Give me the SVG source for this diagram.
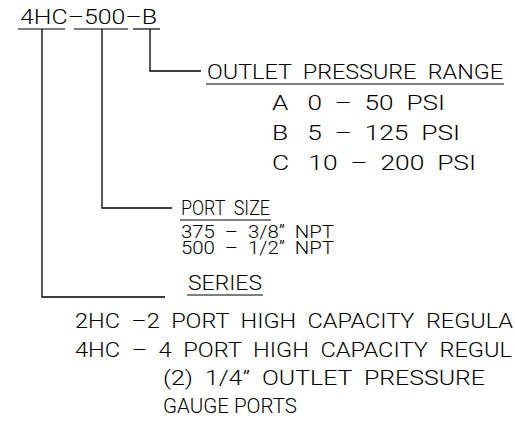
<svg xmlns="http://www.w3.org/2000/svg" width="515" height="439" viewBox="0 0 515 439">
<style>
  text { font-family: Roboto, "DejaVu Sans", "Liberation Sans", Arial, sans-serif; font-weight: 300; fill: #000; }
  .t { font-size: 20px; }
  .s { font-size: 17.5px; }
  .ln { stroke: #000; stroke-width: 1.3; fill: none; }
  .ul { stroke: #000; stroke-width: 1.2; fill: none; }
</style>
<rect width="515" height="439" fill="#fff"/>
<g id="title">
  <text class="t" x="20" y="24" textLength="137" lengthAdjust="spacingAndGlyphs">4HC–500–B</text>
  <line class="ul" x1="18" y1="29" x2="65" y2="29"/>
  <line class="ul" x1="74" y1="29" x2="128" y2="29"/>
  <line class="ul" x1="133" y1="29" x2="160" y2="29"/>
</g>
<g id="connectors">
  <polyline class="ln" points="150,29 150,71 201,71"/>
  <polyline class="ln" points="102,29 102,208 172,208"/>
  <polyline class="ln" points="42,29 42,297 165,297"/>
</g>
<g id="outlet">
  <text class="t" x="207" y="79" textLength="296" lengthAdjust="spacingAndGlyphs" xml:space="preserve">OUTLET  PRESSURE  RANGE</text>
  <line class="ul" x1="206" y1="84" x2="504" y2="84"/>
  <text class="t" x="272" y="110" textLength="173" lengthAdjust="spacingAndGlyphs" xml:space="preserve">A   0  –  50  PSI</text>
  <text class="t" x="272" y="140" textLength="188" lengthAdjust="spacingAndGlyphs" xml:space="preserve">B   5  –  125  PSI</text>
  <text class="t" x="272" y="170" textLength="204" lengthAdjust="spacingAndGlyphs" xml:space="preserve">C   10  –  200  PSI</text>
</g>
<g id="port-size">
  <text class="t" x="181" y="215" textLength="89" lengthAdjust="spacingAndGlyphs" xml:space="preserve">PORT  SIZE</text>
  <line class="ul" x1="180" y1="220" x2="271" y2="220"/>
  <text class="s" x="181" y="238" textLength="153" lengthAdjust="spacingAndGlyphs" xml:space="preserve">375  –  3/8”  NPT</text>
  <text class="s" x="181" y="254" textLength="153" lengthAdjust="spacingAndGlyphs" xml:space="preserve">500  –  1/2”  NPT</text>
</g>
<g id="series">
  <text class="t" x="188" y="290" textLength="74" lengthAdjust="spacingAndGlyphs">SERIES</text>
  <line class="ul" x1="187" y1="295" x2="263" y2="295"/>
  <text class="t" x="75" y="328" textLength="438" lengthAdjust="spacingAndGlyphs" xml:space="preserve">2HC  –2  PORT  HIGH  CAPACITY  REGULA</text>
  <text class="t" x="75" y="357" textLength="437" lengthAdjust="spacingAndGlyphs" xml:space="preserve">4HC  –  4  PORT  HIGH  CAPACITY  REGUL</text>
  <text class="t" x="163" y="385" textLength="322" lengthAdjust="spacingAndGlyphs" xml:space="preserve">(2)  1/4”  OUTLET  PRESSURE</text>
  <text class="t" x="163" y="413" textLength="134" lengthAdjust="spacingAndGlyphs">GAUGE PORTS</text>
</g>
</svg>
